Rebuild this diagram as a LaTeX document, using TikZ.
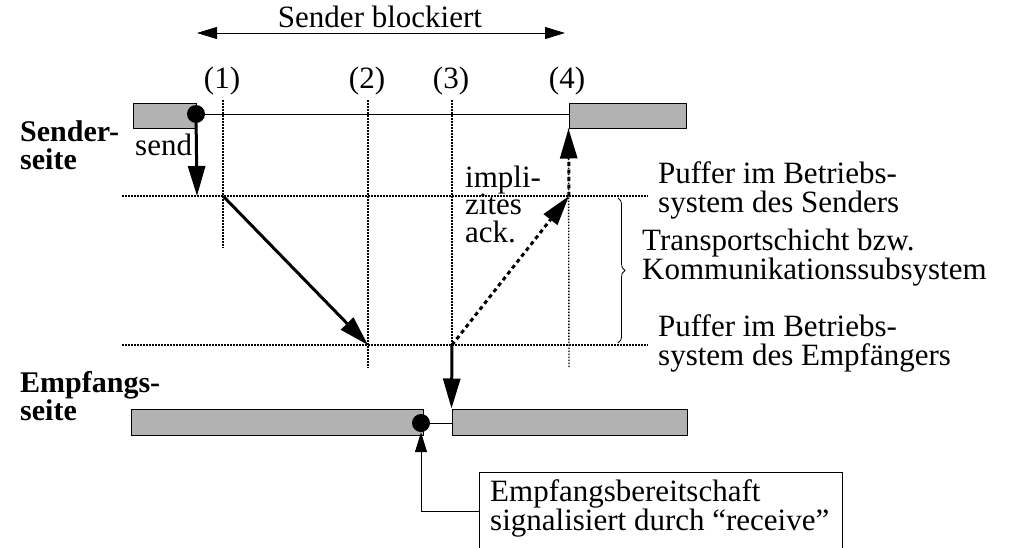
\documentclass[tikz,border=0pt]{standalone}
\usepackage{fontspec}
\setmainfont{Liberation Serif}
\usetikzlibrary{arrows.meta,decorations.pathreplacing,positioning}

\tikzset{
  buf/.style={draw, fill=gray!60, line width=1pt, inner sep=0pt},
  dot/.style={circle, fill=black, minimum size=18pt, inner sep=0pt},
  grid/.style={line width=1.4pt, dash pattern=on 1.6pt off 1.4pt},
  big/.style={-{Triangle[length=30pt,width=17pt]}, line width=3pt},
  small/.style={-{Triangle[length=20pt,width=12pt]}, line width=1pt},
  ack/.style={dash pattern=on 4pt off 3.5pt},
  txt/.style={font=\fontsize{31}{29}\selectfont, inner sep=0pt, align=left},
  lbl/.style={font=\fontsize{30}{28}\selectfont\bfseries, inner sep=0pt, align=left}
}

\begin{document}
\begin{tikzpicture}[x=1pt,y=-1pt]
\useasboundingbox (0,0) rectangle (1013,547);
%sender side
\node[buf, minimum width=63pt, minimum height=25pt] (sbuf1) at (164.5,115.5) {};
\node[buf, minimum width=117pt, minimum height=25pt] (sbuf2) at (627.5,115.5) {};
\node[dot] (sdot) at (196,114) {};
\draw[line width=1pt] (sdot) -- (sdot -| sbuf2.west);
\node[lbl, anchor=base west] (slbl) at (20,169) {Sender-\\seite};
\node[txt, anchor=base west] (send) at (135,155) {send};
% receiver side
\node[buf, minimum width=292pt, minimum height=26pt] (rbuf1) at (277,422) {};
\node[buf, minimum width=235pt, minimum height=26pt] (rbuf2) at (569.5,422) {};
\node[dot] (rdot) at (421,423) {};
\draw[line width=1pt] (rdot) -- (rdot -| rbuf2.west);
\node[lbl, anchor=base west] (rlbl) at (20,420) {Empfangs-\\seite};
% time marks
\foreach \n/\x/\y in {1/223/248,2/368/368,3/452/345}{
\node[txt, anchor=base] (m\n) at (\x-1,88) {(\n)};
\draw[grid] (\x,100) -- (\x,\y);
}
\node[txt, anchor=base] (m4) at (567,88) {(4)};
\draw[grid] (sbuf2.south west) -- (569,368);
% buffer lines
\foreach \y in {196,345}{
\draw[grid] (122,\y) -- (648,\y);
}
\coordinate (sendend) at (197,196);
\coordinate (u1) at (223,196);
\coordinate (l2) at (368,345);
\coordinate (l3) at (452,345);
\coordinate (u4) at (569,196);
% messages
\draw[big] (sdot) -- (sendend);
\draw[big] (u1) -- (l2);
\draw[big] (l3) -- (rbuf2.north west);
\draw[big, ack] (l3) -- (u4);
\draw[big, ack] (u4) -- (sbuf2.south west);
\node[txt, anchor=base west, font=\fontsize{31}{27.5}\selectfont] (impl) at (465,242) {impli-\\zites\\ack.};
% blocked
\coordinate (bl) at (197,33);
\coordinate (br) at (565,33);
\draw[line width=1pt, {Triangle[length=20pt,width=12pt]}-{Triangle[length=20pt,width=12pt]}] (bl) -- (br);
\node[txt, anchor=base] (blk) at (380,27) {Sender blockiert};
% layers
\draw[line width=0.8pt, decorate, decoration={brace, amplitude=7pt}] (618,198) -- (618,343);
\node[txt, anchor=base west] (psend) at (658,212) {Puffer im Betriebs-\\system des Senders};
\node[txt, anchor=base west] (trans) at (642,279) {Transportschicht bzw.\\Kommunikationssubsystem};
\node[txt, anchor=base west] (precv) at (658,365) {Puffer im Betriebs-\\system des Empfängers};
% note
\node[draw, line width=1pt, minimum width=363pt, minimum height=78pt, anchor=north west] (note) at (479,472) {};
\node[txt, anchor=base west] (notetxt) at (490,530) {Empfangsbereitschaft\\signalisiert durch ``receive''};
\draw[small] (note.west) -| (rdot);
\end{tikzpicture}
\end{document}
